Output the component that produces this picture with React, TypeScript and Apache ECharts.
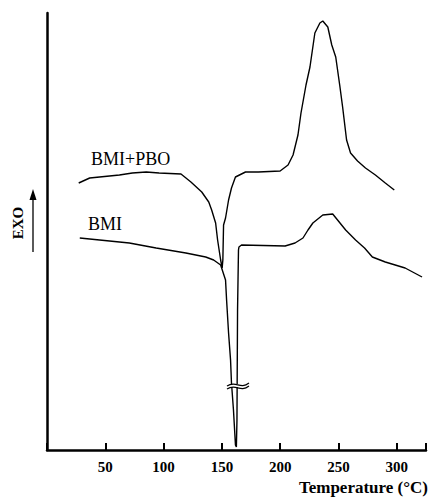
import React, { useEffect, useRef } from "react";
import * as echarts from "echarts";

const xTicks = [50, 100, 150, 200, 250, 300];

const bmiPboTemp = [27.2, 36.6, 45.1, 62.1, 73.2, 85.1, 96.1, 114.9, 123.4, 132.7, 138.7, 141.2, 144.6, 146.3, 148.9, 150.2, 150.8, 151.4, 153.1, 155.7, 158.2, 161.6, 170.2, 181.2, 199.9, 206.7, 211, 215.2, 217.8, 222.1, 225.5, 229.7, 234, 236.5, 240.8, 244.2, 247.6, 251, 253.5, 256.9, 260.3, 266.3, 273.1, 281.6, 290.1, 297.8];
const bmiPboSignal = [267, 272, 273, 275, 277, 278, 277, 276, 268, 258, 248, 240, 227, 210, 190, 182, 190, 225, 232, 250, 262, 273, 278, 278, 279, 285, 295, 315, 337, 365, 383, 417, 427, 429, 423, 405, 393, 365, 343, 310, 297, 289, 282, 275, 267, 260];

const bmiTemp = [28.1, 45.1, 70.6, 93.6, 119.1, 136.1, 142.9, 148.9, 153.1, 154, 155.7, 157.4, 158.2, 159.9, 161.6, 162.4, 162.9, 163.4, 164.2, 164.6, 166.8, 204.2, 212.7, 219.5, 223.8, 228, 236.5, 245, 256.1, 264.6, 272.3, 279, 290.1, 307.1, 321.6];
const bmiSignal = [212, 210, 207, 202, 197, 193, 190, 185, 170, 150, 117, 90, 67, 40, 5, 3, 30, 140, 200, 203, 205, 204, 207, 212, 220, 227, 235, 236, 220, 210, 202, 193, 188, 182, 173];

const seriesNames = ["BMI+PBO", "BMI"];
const xTitle = "Temperature (\u00B0C)";
const yTitle = "EXO";

const zip = (a: number[], b: number[]) => a.map((v, i) => [v, b[i]]);

export default function App() {
  const ref = useRef<HTMLDivElement>(null);
  useEffect(() => {
    if (!ref.current) return;
    const chart = echarts.init(ref.current, undefined, { renderer: "svg" });
    const ff = "Liberation Serif";
    const lineStyle = { color: "#000", width: 1.4 };
    chart.setOption({
      animation: false,
      backgroundColor: "#fff",
      textStyle: { fontFamily: ff },
      grid: { left: 47, right: 0, top: 13, bottom: 47 },
      xAxis: {
        type: "value",
        min: 0,
        max: 325,
        interval: 50,
        splitLine: { show: false },
        axisLine: { lineStyle: { color: "#000", width: 2.5 } },
        axisTick: { inside: true, length: 7, lineStyle: { color: "#000", width: 2 } },
        axisLabel: {
          color: "#000",
          fontFamily: ff,
          fontWeight: "bold",
          fontSize: 15,
          margin: 9,
          formatter: (v: number) => (xTicks.includes(v) ? String(v) : ""),
        },
      },
      yAxis: {
        type: "value",
        min: 0,
        max: 437,
        splitLine: { show: false },
        axisLine: { show: true, lineStyle: { color: "#000", width: 2.5 } },
        axisTick: { show: false },
        axisLabel: { show: false },
      },
      graphic: [
        {
          type: "text",
          right: 1,
          top: 479,
          style: { text: xTitle, fill: "#000", fontFamily: ff, fontWeight: "bold", fontSize: 17 },
        },
        {
          type: "text",
          x: 18,
          y: 223,
          rotation: Math.PI / 2,
          style: { text: yTitle, fill: "#000", fontFamily: ff, fontWeight: "bold", fontSize: 15, align: "center", verticalAlign: "middle" },
        },
        {
          type: "line",
          shape: { x1: 33, y1: 252, x2: 33, y2: 196 },
          style: { stroke: "#000", lineWidth: 1.3 },
        },
        {
          type: "polygon",
          shape: { points: [[33, 189], [29.5, 200], [36.5, 200]] },
          style: { fill: "#000" },
        },
        {
          type: "text",
          x: 91,
          y: 159,
          style: { text: seriesNames[0], fill: "#000", fontFamily: ff, fontSize: 18, verticalAlign: "middle" },
        },
        {
          type: "text",
          x: 88,
          y: 224,
          style: { text: seriesNames[1], fill: "#000", fontFamily: ff, fontSize: 18, verticalAlign: "middle" },
        },
        {
          type: "rect",
          shape: { x: 228, y: 384, width: 18, height: 3 },
          style: { fill: "#fff" },
          z: 100,
        },
        {
          type: "bezierCurve",
          shape: { x1: 227, y1: 386, cpx1: 236, cpy1: 380, cpx2: 240, cpy2: 390, x2: 249, y2: 383 },
          style: { stroke: "#000", lineWidth: 1.2, fill: "none" },
          z: 101,
        },
        {
          type: "bezierCurve",
          shape: { x1: 227, y1: 389, cpx1: 236, cpy1: 383, cpx2: 240, cpy2: 393, x2: 249, y2: 386 },
          style: { stroke: "#000", lineWidth: 1.2, fill: "none" },
          z: 101,
        },
      ],
      series: [
        {
          name: seriesNames[0],
          type: "line",
          data: zip(bmiPboTemp, bmiPboSignal),
          showSymbol: false,
          symbol: "none",
          lineStyle,
        },
        {
          name: seriesNames[1],
          type: "line",
          data: zip(bmiTemp, bmiSignal),
          showSymbol: false,
          symbol: "none",
          lineStyle,
        },
      ],
    });
    return () => chart.dispose();
  }, []);
  return <div ref={ref} style={{ position: "absolute", left: 0, top: 0, width: 429, height: 497 }} />;
}
